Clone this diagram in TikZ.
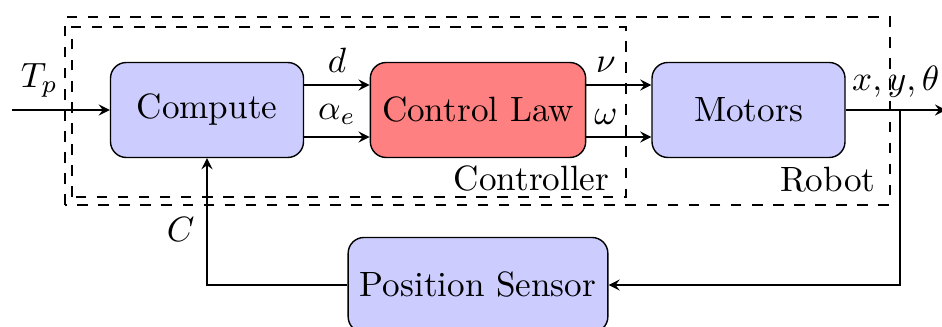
\documentclass[tikz,border=0pt]{standalone}
\usepackage{tikz}
\usetikzlibrary{arrows}

\begin{document}
\begin{tikzpicture}[auto]
    \tikzstyle{block} = [rectangle,draw=black,rounded corners=4.5pt,minimum height=0.95cm,minimum width=1.93cm]
    \tikzstyle{block blue} = [block,fill=blue!20]
    \tikzstyle{block red} = [block,fill=red!50]
    \tikzstyle{signal} = [draw=black, ->, >=stealth]
    \tikzstyle{group box} = [draw=black, dashed]
    \tikzstyle{group label} = [inner sep=0pt, anchor=base east]
\useasboundingbox (0,0) rectangle (9.42,3.27);
% groups
\draw[group box] (0.65,1.22) rectangle (8.90,3.10);
\draw[group box] (0.72,1.30) rectangle (6.26,3.00);
\node[group label] (robotlbl) at (8.76,1.35) {Robot};
\node[group label] (ctrllbl) at (6.10,1.36) {Controller};
% blocks
\node[block blue] (compute) at (2.07, 2.17) {Compute};
\node[block red] (law) at (4.78, 2.17) {Control Law};
\node[block blue] (motors) at (7.485, 2.17) {Motors};
\node[block blue] (sensor) at (4.78, 0.42) {Position Sensor};
\coordinate (in) at (0.12, 2.17);
\coordinate (out) at (9.46, 2.17);
\coordinate (branch) at (9.00, 2.17);
% signals
\draw[signal] (in) to node[pos=0.28] {$T_p$} (compute);
\draw[signal] ([yshift=0.25cm]compute.east) to node {$d$} ([yshift=0.25cm]law.west);
\draw[signal] ([yshift=-0.27cm]compute.east) to node {$\alpha_e$} ([yshift=-0.27cm]law.west);
\draw[signal] ([yshift=0.25cm]law.east) to node[pos=0.3] {$\nu$} ([yshift=0.25cm]motors.west);
\draw[signal] ([yshift=-0.27cm]law.east) to node[pos=0.3] {$\omega$} ([yshift=-0.27cm]motors.west);
\draw[signal] (motors) to node {$x,y,\theta$} (out);
\draw[signal] (branch) |- (sensor);
\draw[signal] (sensor) -| node[pos=0.72] {$C$} (compute);
\end{tikzpicture}
\end{document}
